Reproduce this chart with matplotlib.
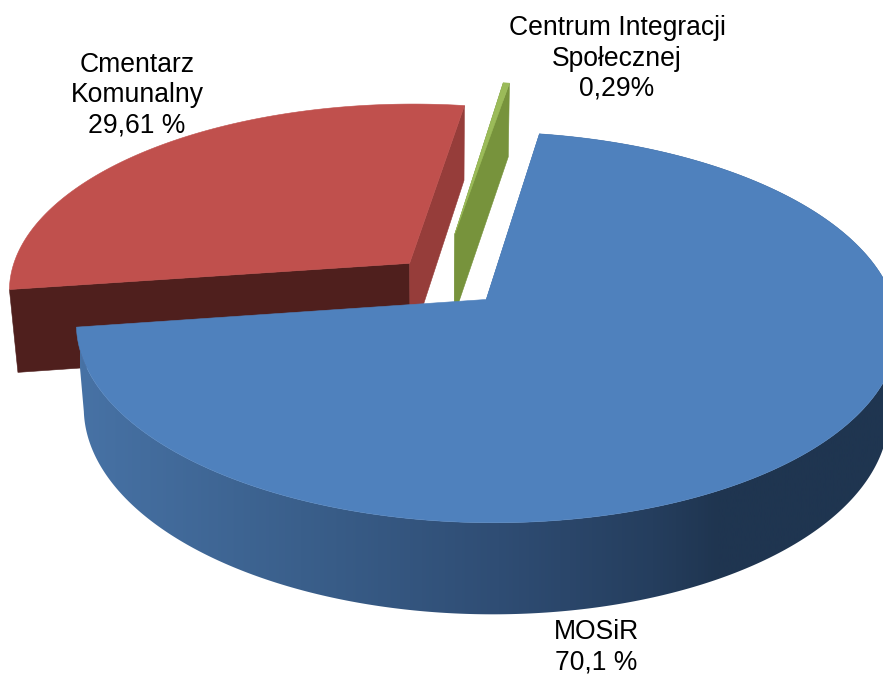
import numpy as np
import matplotlib
matplotlib.use("Agg")
import matplotlib.pyplot as plt
from matplotlib.patches import Polygon
from matplotlib.colors import LinearSegmentedColormap

# Data
categories = ["MOSiR", "Cmentarz\nKomunalny", "Centrum Integracji\nSpołecznej"]
values = [70.1, 29.61, 0.29]
value_labels = ["70,1 %", "29,61 %", "0,29%"]

# Style
START_ANGLE = 9.5
EXPLODE = [0.163, 0.109, 0.246]
TOP_COLORS = ["#4f81bd", "#c0504d", "#9bbb59"]
CUT_FIRST = ["#4a76ac", "#4f1f1d", "#77933c"]
CUT_LAST = ["#4a76ac", "#963d3a", "#77933c"]
CX, CY, A, B, P, D, Q = 440, 277.5, 400, 185.3, 0.14, 84, 0.02
GRAD_STOPS = [(0.0, "#4772a5"), (0.27, "#3a5f8b"), (0.51, "#2f4d74"),
              (0.70, "#253e5e"), (0.78, "#1f3550"), (1.0, "#1f3550")]
GRAD_X0, GRAD_X1 = 80, 900


def project(X, Y, depth=0.0):
    X, Y = np.asarray(X, float), np.asarray(Y, float)
    w = 1 + P * Y + Q * depth
    return CX + A * X / w, CY - (B * Y - D * depth) / w


fig = plt.figure(figsize=(8.83, 6.74), dpi=100)
ax = fig.add_axes([0, 0, 1, 1])
ax.axis("off")

spans = []
a0 = START_ANGLE
for v in values:
    a1 = a0 + 360 * v / sum(values)
    spans.append((a0, a1))
    a0 = a1


def poly(xs, ys, color, z):
    ax.add_patch(Polygon(np.column_stack([xs, ys]), closed=True, facecolor=color,
                         edgecolor=color, linewidth=0.4, zorder=z))


cmap = LinearSegmentedColormap.from_list("wall", GRAD_STOPS)
for i in [1, 2, 0]:
    a0, a1 = spans[i]
    mid = np.radians((a0 + a1) / 2)
    ox, oy = EXPLODE[i] * np.sin(mid), EXPLODE[i] * np.cos(mid)
    th = np.radians(np.linspace(a0, a1, 400))
    X, Y = ox + np.sin(th), oy + np.cos(th)
    base = {1: 1, 2: 2, 0: 3}[i] * 10
    tx, ty = project(X, Y, 0)
    bx, by = project(X, Y, 1)
    ax0, ay0 = project(ox, oy, 0)
    ax1, ay1 = project(ox, oy, 1)

    poly([ax0, tx[0], bx[0], ax1], [ay0, ty[0], by[0], ay1], CUT_FIRST[i], base + 1)
    if i != 0:
        poly([ax0, tx[-1], bx[-1], ax1], [ay0, ty[-1], by[-1], ay1], CUT_LAST[i], base + 2)
    if i == 0:
        wall = Polygon(np.column_stack([np.r_[tx, bx[::-1]], np.r_[ty, by[::-1]]]),
                       closed=True, facecolor="none", edgecolor="none",
                       transform=ax.transData)
        ax.add_patch(wall)
        im = ax.imshow(np.linspace(0, 1, 512)[None, :], cmap=cmap, aspect="auto",
                       extent=(GRAD_X0, GRAD_X1, 674, 0), zorder=base + 3, vmin=0, vmax=1)
        im.set_clip_path(wall)
    poly(np.r_[ax0, tx], np.r_[ay0, ty], TOP_COLORS[i], base + 5)

ax.set_xlim(0, 883)
ax.set_ylim(674, 0)
ax.set_aspect("auto")

txt = dict(family="Liberation Sans", fontsize=19.1, color="black", ha="center", va="center",
           linespacing=1.22, zorder=50)
ax.text(617, 58.5, categories[2] + "\n" + value_labels[2], **txt)
ax.text(137, 95.5, categories[1] + "\n" + value_labels[1], **txt)
ax.text(596, 647, categories[0] + "\n" + value_labels[0], **txt)

fig.savefig("out.png", dpi=100)
